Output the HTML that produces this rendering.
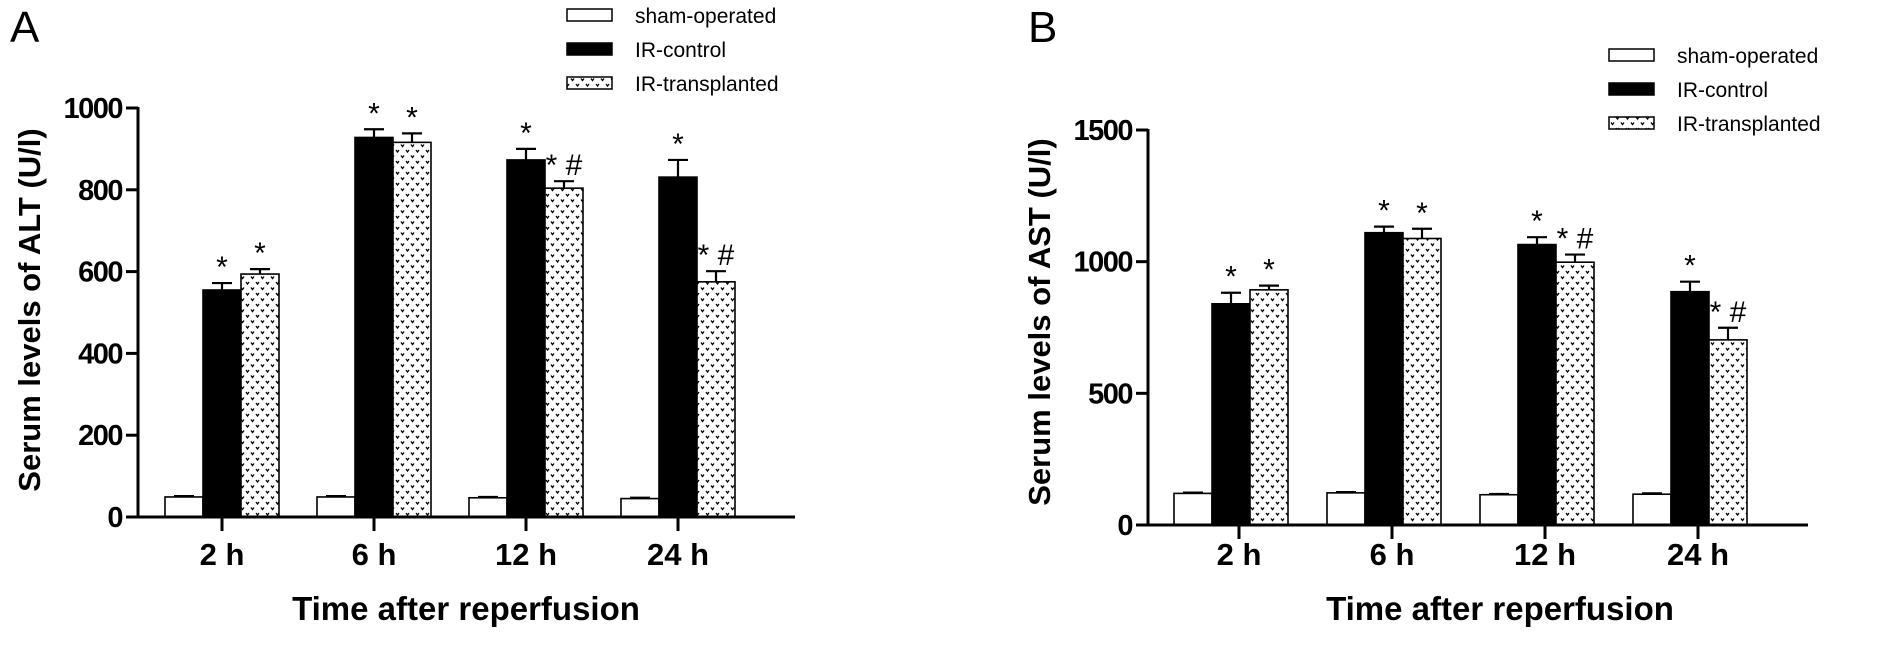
<!DOCTYPE html>
<html><head><meta charset="utf-8"><style>
html,body{margin:0;padding:0;background:#fff;}
svg{display:block;font-family:"Liberation Sans",Arial,sans-serif;}
</style></head><body>
<svg id="fig" width="1890" height="650" viewBox="0 0 1890 650" xmlns="http://www.w3.org/2000/svg">
<defs>
<pattern id="dots" width="10" height="11" patternUnits="userSpaceOnUse">
<rect width="10" height="11" fill="#fff"/>
<path d="M1 1.5 L2.5 3.5 L4 1.5 M6 7 L7.5 9 L9 7" stroke="#000" stroke-width="1.3" fill="none"/>
</pattern>
</defs>
<g id="root"></g>
</svg>
<script>
const categories = ["2 h","6 h","12 h","24 h"];
const seriesNames = ["sham-operated","IR-control","IR-transplanted"];
const altSham = [49,49,47,45];
const altShamErr = [51,51,49,47];
const altCtrl = [555,928,873,831];
const altCtrlErr = [572,948,900,873];
const altTrans = [594,916,804,575];
const altTransErr = [606,938,821,601];
const altMarks = [["*","*"],["*","*"],["*","* #"],["*","* #"]];
const altTicks = [0,200,400,600,800,1000];
const astSham = [120,122,115,117];
const astShamErr = [123,125,118,120];
const astCtrl = [840,1110,1065,886];
const astCtrlErr = [882,1133,1093,924];
const astTrans = [893,1088,998,703];
const astTransErr = [909,1125,1027,749];
const astMarks = [["*","*"],["*","*"],["*","* #"],["*","* #"]];
const astTicks = [0,500,1000,1500];

const NS="http://www.w3.org/2000/svg";
const root=document.getElementById('root');
function mk(tag,attrs,parent,text){const e=document.createElementNS(NS,tag);for(const k in attrs)e.setAttribute(k,attrs[k]);if(text!==undefined)e.textContent=text;(parent||root).appendChild(e);return e;}

function panel(cfg){
  const g=mk('g',{});
  
  
  const yS=v=>cfg.y0-(v/cfg.ymax)*(cfg.y0-cfg.yTop);
  const xC=i=>cfg.c0+i*cfg.step;
  const L=mk('text',{x:cfg.letterX,y:42,'font-size':44},g,cfg.letter);
  
  const bw=38;
  const sets=[[cfg.sham,cfg.shamErr,'#fff',-1],[cfg.ctrl,cfg.ctrlErr,'#000',0],[cfg.trans,cfg.transErr,'url(#dots)',1]];
  categories.forEach((c,i)=>{
    sets.forEach((s,k)=>{
      const cx=xC(i)+s[3]*bw;
      const top=yS(s[0][i]);
      const r=mk('rect',{x:cx-bw/2,y:top,width:bw,height:cfg.y0-top,fill:s[2],stroke:'#000','stroke-width':1.6},g);
      
      
      const et=yS(s[1][i]);
      const e=mk('path',{d:`M${cx} ${top} V${et} M${cx-10} ${et} H${cx+10}`,stroke:'#000','stroke-width':2.2,fill:'none'},g);
      
      
      if(k>0){
        const m=cfg.marks[i][k-1];
        const t=mk('text',{x:cx,y:et-6,'text-anchor':'middle','font-size':30},g,m);
        
        
      }
    });
    const tx=xC(i)+cfg.tickOff;
    const tk=mk('line',{x1:tx,x2:tx,y1:cfg.y0,y2:cfg.y0+14,stroke:'#000','stroke-width':3},g);
    
    const tl=mk('text',{x:tx,y:565,'text-anchor':'middle','font-size':31,'font-weight':'bold'},g,c);
    
  });
  const ya=mk('line',{x1:cfg.ax,x2:cfg.ax,y1:cfg.yTop-1,y2:cfg.y0+1.5,stroke:'#000','stroke-width':3},g);
  
  const xa=mk('line',{x1:cfg.ax-1.5,x2:cfg.axEnd,y1:cfg.y0,y2:cfg.y0,stroke:'#000','stroke-width':3},g);
  
  cfg.ticks.forEach(v=>{
    const y=yS(v);
    const t=mk('line',{x1:cfg.ax-12,x2:cfg.ax,y1:y,y2:y,stroke:'#000','stroke-width':3},g);
    
    const l=mk('text',{x:cfg.ax-16,y:y+10,'text-anchor':'end','font-size':29,'font-weight':'bold','letter-spacing':-1.5},g,String(v));
    
  });
  const yt=mk('text',{x:0,y:0,'text-anchor':'middle','font-size':31,'font-weight':'bold',transform:`translate(${cfg.titleX},${cfg.titleY}) rotate(-90)`},g,cfg.ytitle);
  
  const xt=mk('text',{x:cfg.xtitleX,y:620,'text-anchor':'middle','font-size':33,'font-weight':'bold'},g,'Time after reperfusion');
  
  const fills=['#fff','#000','url(#dots)'];
  seriesNames.forEach((n,k)=>{
    const y=cfg.legY+k*34;
    const lg=mk('g',{},g);
    
    mk('rect',{x:cfg.legX,y:y-6,width:45,height:12,fill:fills[k],stroke:'#000','stroke-width':1.5},lg);
    mk('text',{x:cfg.legX+68,y:y+8,'font-size':21},lg,n);
  });
}
panel({name:'chart-alt',letter:'A',letterX:10,ax:138,axEnd:795,y0:517,yTop:108,ymax:1000,c0:222,step:152,tickOff:0,
  sham:altSham,shamErr:altShamErr,ctrl:altCtrl,ctrlErr:altCtrlErr,trans:altTrans,transErr:altTransErr,marks:altMarks,ticks:altTicks,
  ytitle:'Serum levels of ALT (U/l)',titleX:40,titleY:310,legX:567,legY:15,xtitleX:466});
panel({name:'chart-ast',letter:'B',letterX:1028,ax:1148,axEnd:1808,y0:525,yTop:130,ymax:1500,c0:1231,step:153,tickOff:8,
  sham:astSham,shamErr:astShamErr,ctrl:astCtrl,ctrlErr:astCtrlErr,trans:astTrans,transErr:astTransErr,marks:astMarks,ticks:astTicks,
  ytitle:'Serum levels of AST (U/l)',titleX:1050,titleY:322,legX:1609,legY:55,xtitleX:1500});
</script>
</body></html>
